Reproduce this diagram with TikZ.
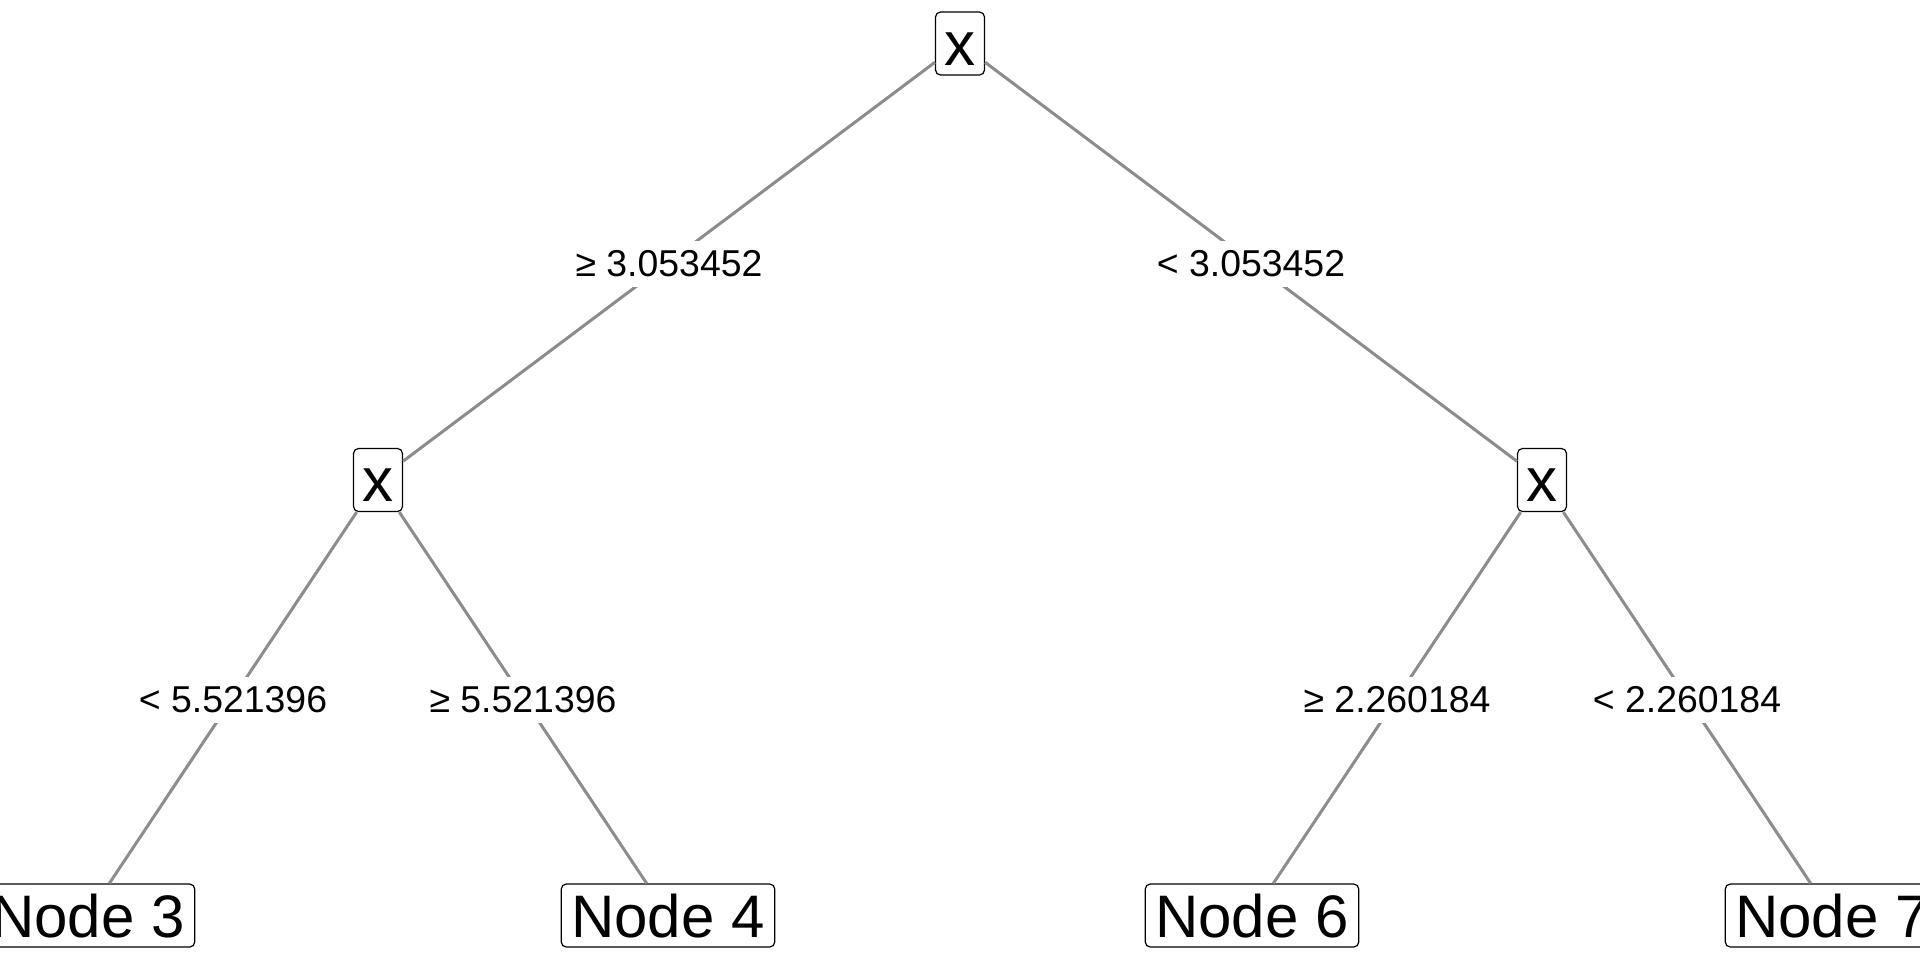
\documentclass[tikz,border=0pt]{standalone}
\usepackage{fontspec}
\setmainfont{Liberation Sans}
\usetikzlibrary{calc}
\definecolor{linegray}{RGB}{140,140,140}
\begin{document}
\begin{tikzpicture}[x=0.5pt,y=-0.5pt,
  inner/.style={draw, rounded corners=2.5pt, line width=0.6pt, fill=white,
    font=\fontsize{31}{36}\selectfont, text height=21.5pt, text depth=0pt,
    minimum height=31.5pt, inner xsep=4.5pt, inner ysep=0pt},
  leaf/.style={inner, font=\fontsize{30}{36}\selectfont, inner xsep=5pt},
  edge/.style={draw=linegray, line width=1.5pt},
  elabel/.style={fill=white, font=\fontsize{18.7}{22}\selectfont, inner xsep=2pt, inner ysep=5pt}]
\useasboundingbox (0,0) rectangle (1920,960);
\clip (0,0) rectangle (1920,960);
\node[inner] (n1) at (960,43.5) {x};
\node[inner] (n2) at (378,480) {x};
\node[inner] (n5) at (1542,480) {x};
\node[leaf] (n3) at (88,915.5) {Node 3};
\node[leaf] (n4) at (668,915.5) {Node 4};
\node[leaf] (n6) at (1252,915.5) {Node 6};
\node[leaf] (n7) at (1832,915.5) {Node 7};
\draw[edge] (n1) -- (n2);
\draw[edge] (n1) -- (n5);
\draw[edge] (n2) -- (n3);
\draw[edge] (n2) -- (n4);
\draw[edge] (n5) -- (n6);
\draw[edge] (n5) -- (n7);
\node[elabel] (l12) at ($(n1.center)!0.5!(n2.center)+(0,2)$) {≥ 3.053452};
\node[elabel] (l15) at ($(n1.center)!0.5!(n5.center)+(0,2)$) {< 3.053452};
\node[elabel] (l23) at ($(n2.center)!0.5!(n3.center)+(0,2)$) {< 5.521396};
\node[elabel] (l24) at ($(n2.center)!0.5!(n4.center)+(0,2)$) {≥ 5.521396};
\node[elabel] (l56) at ($(n5.center)!0.5!(n6.center)+(0,2)$) {≥ 2.260184};
\node[elabel] (l57) at ($(n5.center)!0.5!(n7.center)+(0,2)$) {< 2.260184};
\end{tikzpicture}
\end{document}
